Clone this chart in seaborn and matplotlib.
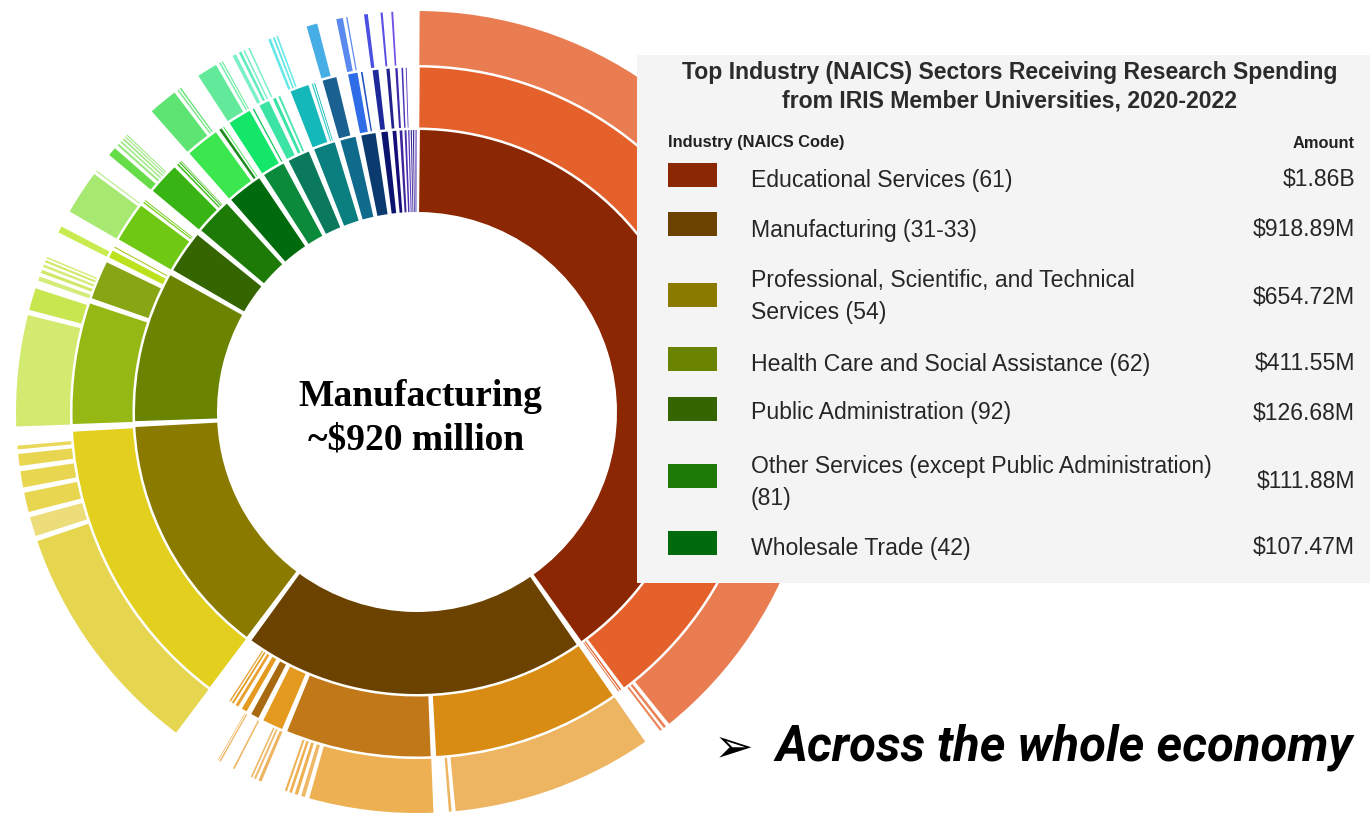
import numpy as np
import matplotlib
matplotlib.use("Agg")
import matplotlib.pyplot as plt
from matplotlib.patches import Wedge, Rectangle
import seaborn as sns

# ---------------------------------------------------------------------------
# data (values in $M; first seven come from the legend)
# ---------------------------------------------------------------------------
sector_names = ["Educational Services (61)", "Manufacturing (31-33)",
                "Professional, Scientific, and Technical\nServices (54)",
                "Health Care and Social Assistance (62)", "Public Administration (92)",
                "Other Services (except Public Administration)\n(81)", "Wholesale Trade (42)"]
sector_amounts = ["$1.86B", "$918.89M", "$654.72M", "$411.55M", "$126.68M", "$111.88M", "$107.47M"]

l1_values = [1860, 918.89, 654.72, 411.55, 126.68, 111.88, 107.47,
             74, 73, 72, 56, 53, 32, 20, 14, 10, 7, 6, 5, 4, 3]
l1_colors = ["#8B2803", "#6B4200", "#8A7A00", "#6A8300", "#346500", "#1E7A06", "#006B0C",
             "#0A8A3A", "#0B7A5C", "#0B7F80", "#0F6A8C", "#0B3A6E", "#0A146E", "#150C78",
             "#3A249A", "#4A30B0", "#5A3ABA", "#3A2A9A", "#2A1A8A", "#5A40C0", "#4A30B0"]

# level 2: parent index in level 1
l2_parent = [0, 0, 0,
             1, 1, 1, 1, 1, 1, 1, 1,
             2,
             3, 3, 3, 3,
             4, 4, 4,
             5, 5, 5, 5,
             6, 6, 6,
             7, 7,
             8, 8, 8,
             9, 9, 9,
             10,
             11, 11,
             12, 13, 14, 15, 16]
l2_values = [1842, 6, 4,
             415, 325, 56, 29, 23, 13, 8, 6,
             650,
             273, 95, 28, 5,
             98, 6, 4,
             80, 7, 5, 3,
             84, 12, 4,
             62, 6,
             34, 14, 9,
             52, 6, 4,
             42,
             32, 7,
             24, 14, 10, 7, 4]
l2_colors = ["#E5612C", "#E5612C", "#E86A38",
             "#D98C14", "#C07818", "#E39A1E", "#A86A10", "#E39A1E", "#E8A030", "#E39A1E", "#E8A030",
             "#E2CF1E",
             "#96B814", "#88A516", "#BCE21E", "#A8C820",
             "#6EC814", "#7AD020", "#6EC814",
             "#38B515", "#40C020", "#38B515", "#4AC82A",
             "#3CE64E", "#1E8C1E", "#3CE64E",
             "#14E66A", "#14C860",
             "#3CE4A4", "#3CE4A4", "#50E8B0",
             "#14B8B8", "#40D0D0", "#14B8B8",
             "#1A6090",
             "#2F6CE8", "#2050C0",
             "#1E2A9A", "#22228C", "#3A2AA8", "#4A34B8", "#5A3ABA"]

# level 3: parent index in level 2
l3_parent = [0, 0, 0,
             3, 3,
             4, 4, 4, 4, 4,
             5, 5, 5,
             6,
             7, 7,
             11, 11, 11, 11, 11, 11,
             12, 12,
             13, 13, 13, 13, 13,
             14,
             16, 16,
             19, 19, 19, 19, 19, 19,
             23, 23, 23,
             26, 26, 26,
             28, 28, 28,
             29,
             31, 31, 31,
             34,
             35, 35,
             37, 38, 39]
l3_values = [1815, 10, 8,
             384, 10,
             240, 14, 12, 10, 8,
             12, 8, 6,
             6,
             5, 3,
             450, 46, 46, 40, 32, 14,
             216, 51,
             16, 12, 10, 8, 6,
             22,
             92, 4,
             26, 8, 7, 6, 5, 4,
             64, 6, 5,
             48, 6, 4,
             14, 10, 6,
             6,
             10, 7, 6,
             30,
             22, 5,
             14, 8, 7]
l3_colors = ["#E97C50", "#EA8458", "#EA8458",
             "#EDB461", "#EDB461",
             "#EDB052", "#EEB866", "#EDB052", "#EDB052", "#EDB052",
             "#EDB461", "#F0BC70", "#EDB461",
             "#EDB461",
             "#EDB461", "#F0BC70",
             "#E6D54E", "#EDDD7A", "#E8D650", "#E8D650", "#E8D650", "#EAD85A",
             "#D2EA70", "#C8E650",
             "#D4EC7A", "#CFE866", "#D4EC7A", "#CFE866", "#D4EC7A",
             "#C8EC50",
             "#A6E870", "#B0EC80",
             "#66DC48", "#9AE680", "#A8EA90", "#9AE680", "#A8EA90", "#9AE680",
             "#5EE472", "#80EA90", "#5EE472",
             "#62EA9A", "#7AF0B0", "#62EA9A",
             "#7AF0C8", "#62EAC0", "#7AF0C8",
             "#7AF0C8",
             "#62E8E8", "#62E8E8", "#62E8E8",
             "#46AEE4",
             "#5A8AF0", "#5A8AF0",
             "#4A50E0", "#5A50E0", "#7050E8"]

# ---------------------------------------------------------------------------
# layout (pixel coordinates, y downwards)
# ---------------------------------------------------------------------------
W, H = 1370, 814
CX, CY = 417, 412
RINGS = [(200, 282), (284.5, 344.5), (347, 401)]
PAD_PX = 5.0

sns.set_theme(style="white")
plt.rcParams["font.family"] = ["Liberation Sans", "DejaVu Sans"]

fig = plt.figure(figsize=(W / 100, H / 100), dpi=100)
ax = fig.add_axes([0, 0, 1, 1])
ax.set_xlim(0, W)
ax.set_ylim(H, 0)
ax.axis("off")

deg_per_m = 360.0 / sum(l1_values)


def layout(values, parents, parent_starts):
    starts, offs = [], {}
    for v, p in zip(values, parents):
        s = parent_starts[p] + offs.get(p, 0.0)
        starts.append(s)
        offs[p] = offs.get(p, 0.0) + v * deg_per_m
    return starts


def draw_ring(starts, values, colors, r_in, r_out):
    pad = np.degrees(PAD_PX / ((r_in + r_out) / 2))
    for s, v, c in zip(starts, values, colors):
        ext = v * deg_per_m
        p = min(pad, 0.5 * ext)
        # screen-clockwise from 12 o'clock (y axis inverted)
        ax.add_patch(Wedge((CX, CY), r_out, s + p / 2 - 90, s + ext - p / 2 - 90,
                           width=r_out - r_in, facecolor=c, edgecolor="none", lw=0))


l1_starts = list(np.concatenate([[0], np.cumsum(l1_values)[:-1]]) * deg_per_m)
l2_starts = layout(l2_values, l2_parent, l1_starts)
l3_starts = layout(l3_values, l3_parent, l2_starts)

draw_ring(l1_starts, l1_values, l1_colors, *RINGS[0])
draw_ring(l2_starts, l2_values, l2_colors, *RINGS[1])
draw_ring(l3_starts, l3_values, l3_colors, *RINGS[2])

# centre label
ax.text(CX + 3, 397, "Manufacturing", ha="center", va="center", fontsize=27,
        fontweight="bold", family="Liberation Serif", color="black")
ax.text(CX - 1, 440, "~$920 million", ha="center", va="center", fontsize=27,
        fontweight="bold", family="Liberation Serif", color="black")

# ---------------------------------------------------------------------------
# legend panel
# ---------------------------------------------------------------------------
ax.add_patch(Rectangle((637, 55), W - 637, 528, facecolor="#F4F4F4", edgecolor="none", zorder=5))
ax.text(1010, 72, "Top Industry (NAICS) Sectors Receiving Research Spending", ha="center",
        va="center", fontsize=16.6, fontweight="bold", color="#2b2b2b", zorder=6)
ax.text(1010, 101, "from IRIS Member Universities, 2020-2022", ha="center",
        va="center", fontsize=16.6, fontweight="bold", color="#2b2b2b", zorder=6)
ax.text(668, 143, "Industry (NAICS Code)", ha="left", va="center", fontsize=11.8,
        fontweight="bold", color="#222222", zorder=6)
ax.text(1355, 143, "Amount", ha="right", va="center", fontsize=11.8,
        fontweight="bold", color="#222222", zorder=6)

row_y = [180, 230, 297, 364, 413, 482, 548]
swatch_top = [163, 212, 283, 347, 397, 464, 531]
for name, amt, y, st, c in zip(sector_names, sector_amounts, row_y, swatch_top, l1_colors):
    ax.add_patch(Rectangle((668, st), 49, 24, facecolor=c, edgecolor="none", zorder=6))
    ax.text(751, y, name, ha="left", va="center", fontsize=16.6, color="#262626",
            linespacing=1.5, zorder=6)
    ax.text(1355, y, amt, ha="right", va="center", fontsize=16.6, color="#262626", zorder=6)

# bottom call-out
ax.text(734, 749, "\u27A2", ha="center", va="center", fontsize=34, family="DejaVu Sans",
        color="black")
ax.text(775, 747, "Across the whole economy", ha="left", va="center", fontsize=35.3,
        fontweight="bold", fontstyle="italic", family=["Roboto", "DejaVu Sans"], color="black")

fig.savefig("out.png", dpi=100, facecolor="white")
